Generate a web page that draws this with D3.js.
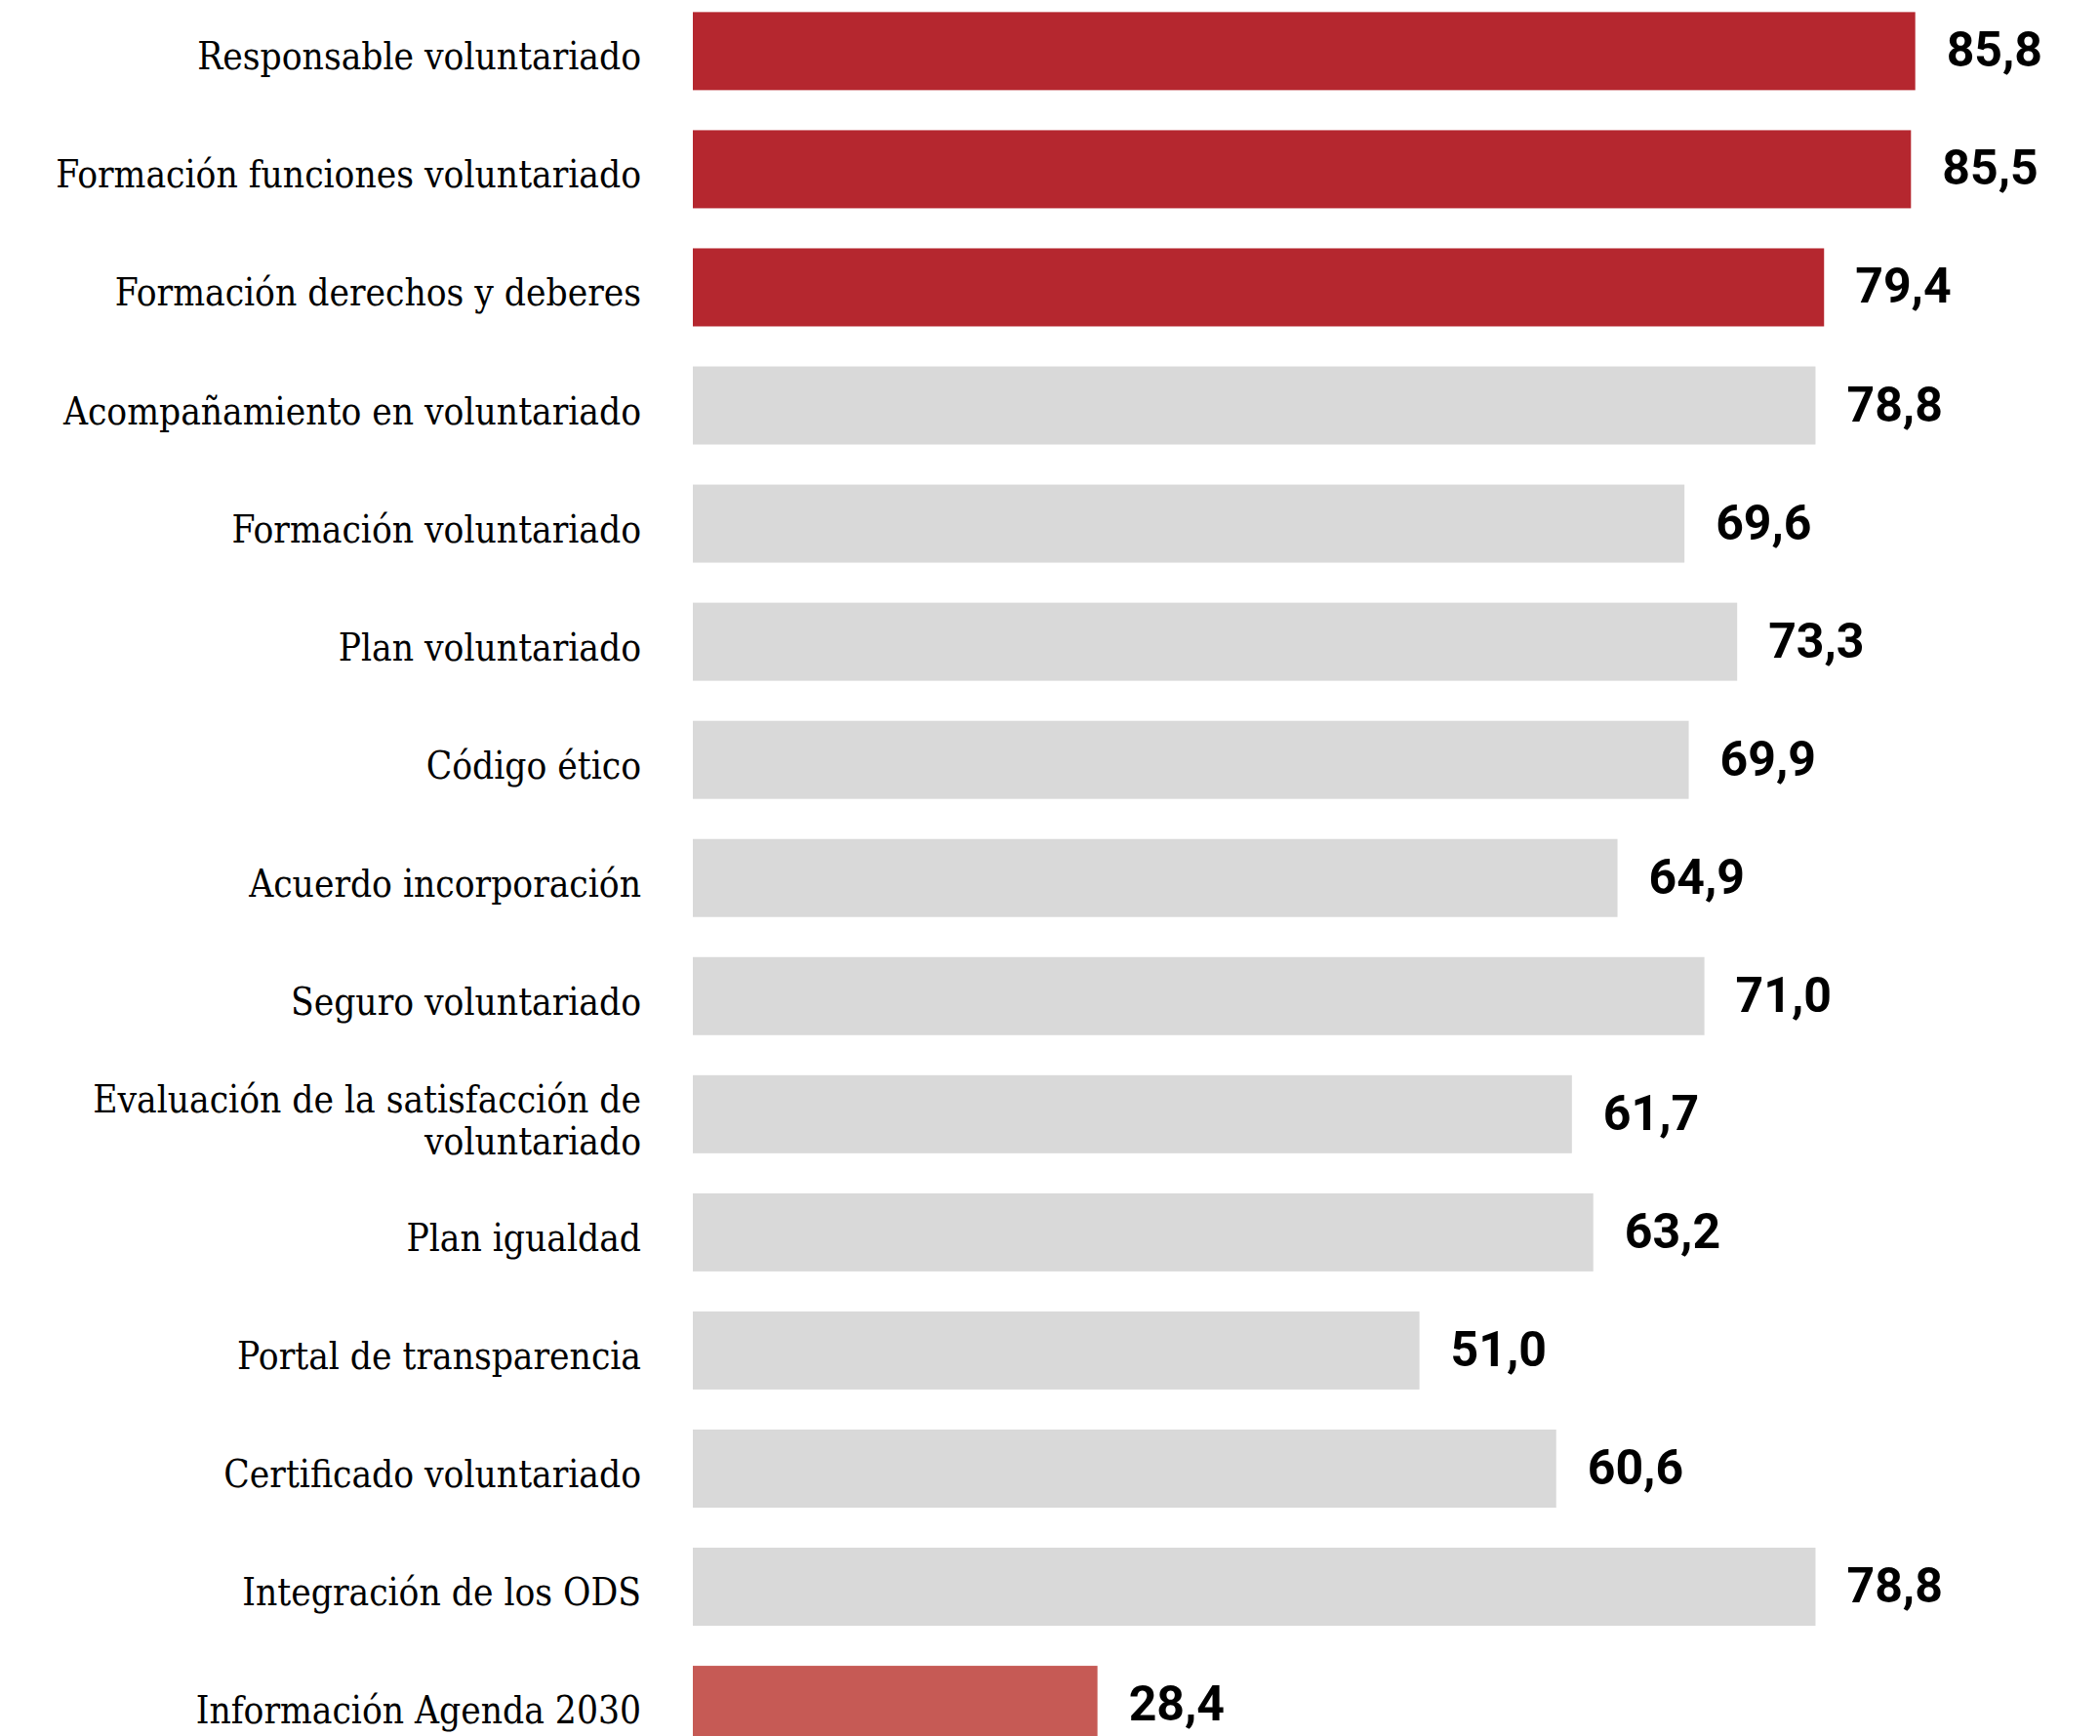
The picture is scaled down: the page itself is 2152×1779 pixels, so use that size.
<!DOCTYPE html>
<html>
<head>
<meta charset="utf-8">
<script src="https://cdn.jsdelivr.net/npm/d3@7"></script>
<style>
  html, body { margin: 0; padding: 0; background: #fff; }
  svg { display: block; }
</style>
</head>
<body>
<svg id="chart" width="2152" height="1779"></svg>
<script>
const categories = [
  "Responsable voluntariado",
  "Formación funciones voluntariado",
  "Formación derechos y deberes",
  "Acompañamiento en voluntariado",
  "Formación voluntariado",
  "Plan voluntariado",
  "Código ético",
  "Acuerdo incorporación",
  "Seguro voluntariado",
  "Evaluación de la satisfacción de voluntariado",
  "Plan igualdad",
  "Portal de transparencia",
  "Certificado voluntariado",
  "Integración de los ODS",
  "Información Agenda 2030"
];
const values = [85.8, 85.5, 79.4, 78.8, 69.6, 73.3, 69.9, 64.9, 71.0, 61.7, 63.2, 51.0, 60.6, 78.8, 28.4];
const groups = ["top","top","top","base","base","base","base","base","base","base","base","base","base","base","agenda"];

const data = categories.map((c, i) => ({ cat: c, value: values[i], group: groups[i] }));

const svg = d3.select("#chart");

const x = d3.scaleLinear().domain([0, 100]).range([710, 2170]);
const y = d3.scaleBand()
  .domain(categories)
  .range([-8.15, -8.15 + 15 * 121.05])
  .paddingInner(0.3391)
  .paddingOuter(0.16955);

const color = d3.scaleOrdinal()
  .domain(["top", "base", "agenda"])
  .range(["#b5272f", "#d9d9d9", "#c65a55"]);

const locale = d3.formatLocale({ decimal: ",", thousands: ".", grouping: [3], currency: ["", "€"] });
const fmt = locale.format(".1f");

// bars
svg.append("g").selectAll("rect")
  .data(data)
  .join("rect")
  .attr("x", x(0))
  .attr("y", d => y(d.cat))
  .attr("width", d => x(d.value) - x(0))
  .attr("height", y.bandwidth())
  .attr("fill", d => color(d.group));

// value labels
svg.append("g").selectAll("text")
  .data(data)
  .join("text")
  .attr("x", d => x(d.value) + 32)
  .attr("y", d => y(d.cat) + y.bandwidth() / 2 + 16)
  .attr("font-family", "Roboto, sans-serif")
  .attr("font-weight", 700)
  .attr("font-size", 50)
  .attr("fill", "#000")
  .text(d => fmt(d.value));

// category labels (right aligned, wrapped)
const labelG = svg.append("g");
const maxW = 650;
data.forEach(d => {
  const t = labelG.append("text")
    .attr("text-anchor", "end")
    .attr("font-family", "'DejaVu Serif Condensed', 'DejaVu Serif', serif")
    .attr("font-stretch", "condensed")
    .attr("font-size", 38.5)
    .attr("fill", "#000");
  const words = d.cat.split(" ");
  const lines = [];
  let cur = [];
  const probe = t.append("tspan");
  words.forEach(w => {
    const test = cur.concat([w]).join(" ");
    probe.text(test);
    if (probe.node().getComputedTextLength() > maxW && cur.length) {
      lines.push(cur.join(" "));
      cur = [w];
    } else {
      cur.push(w);
    }
  });
  lines.push(cur.join(" "));
  probe.remove();
  const cy = y(d.cat) + y.bandwidth() / 2;
  if (lines.length === 1) {
    t.append("tspan").attr("x", 657).attr("y", cy + 19).text(lines[0]);
  } else {
    lines.forEach((ln, k) => {
      t.append("tspan").attr("x", 657).attr("y", cy - 2 + k * 43).text(ln);
    });
  }
});
</script>
</body>
</html>
